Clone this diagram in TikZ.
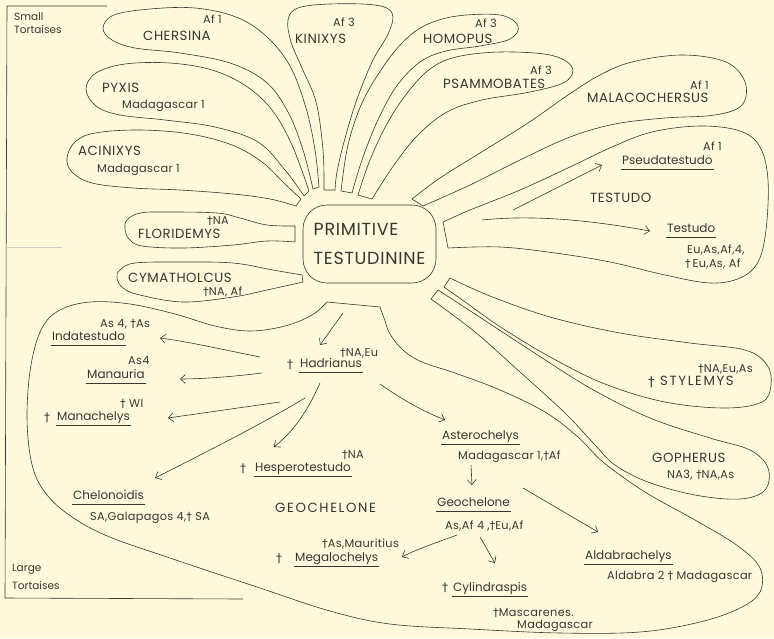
\documentclass[tikz,border=0pt]{standalone}
\usepackage{fontspec}
\setmainfont{Poppins}
\newfontfamily\capsfam[LetterSpace=4]{Poppins}
\newfontfamily\capsfamW[LetterSpace=12]{Poppins}
\newfontfamily\smallfam[LetterSpace=3]{Poppins}
\newfontfamily\dgfam{DejaVu Sans}
\usetikzlibrary{arrows.meta,calc}
\definecolor{paper}{RGB}{254,249,220}
\definecolor{ink}{RGB}{55,55,50}
\newcommand\dg{{\dgfam †}}
\newcommand\smallf{\smallfam\fontsize{11.3}{13}\selectfont}
\newcommand\namef{\fontsize{12}{14}\selectfont}
\newcommand\capf{\capsfam\fontsize{13.3}{15}\selectfont}
\newcommand\capwf{\capsfamW\fontsize{13.3}{15}\selectfont}
\tikzset{
  lobe/.style={draw=ink, line width=0.6pt, line join=round},
  txt/.style={inner sep=0pt, anchor=base west, text=ink, font=\smallf},
  nm/.style={txt, font=\namef},
  cp/.style={txt, font=\capf},
  cpw/.style={txt, font=\capwf},
  arr/.style={draw=ink, line width=0.6pt, -{Straight Barb[length=5pt,width=9pt]}},
  ul/.style={draw=ink, line width=0.6pt},
}
\newcommand\uline[1]{\draw[ul] ($(#1.base west)+(-1,5)$) -- ($(#1.base east)+(1,5)$);}
\begin{document}
\begin{tikzpicture}[x=1pt,y=-1pt]
\fill[paper] (0,0) rectangle (774,638);
\useasboundingbox (0,0) rectangle (774,638);

% side bracket
\draw[ul] (107,6) -- (7,6) -- (5,598) -- (243,599);
\draw[ink!25, line width=0.5pt] (5,247) -- (62,247);
\node[txt,font=\fontsize{10.5}{12}\selectfont] (small1) at (14,20) {Small};
\node[txt,font=\fontsize{10.5}{12}\selectfont] (small2) at (14,33) {Tortaises};
\node[txt,font=\fontsize{10.5}{12}\selectfont] (large1) at (12,571) {Large};
\node[txt,font=\fontsize{10.5}{12}\selectfont] (large2) at (12,589) {Tortaises};

% centre
\node[draw=ink, line width=0.6pt, rounded corners=24pt, minimum width=133pt,
      minimum height=78pt, align=left, inner sep=0pt, text=ink,
      font=\capsfam\fontsize{17.5}{29}\selectfont] (prim) at (369.5,244) {PRIMITIVE\\TESTUDININE};

% lobes of the upper fan
\draw[lobe] plot[smooth, tension=0.6] coordinates {(296,206) (270,199) (233,194) (180,190) (133,188) (92,183) (72,172) (67,158) (75,142) (95,133) (140,130) (190,134) (232,145) (262,162) (285,184) (301,199)} -- cycle;
\draw[lobe] plot[smooth, tension=0.6] coordinates {(304,196) (285,170) (258,142) (215,127) (165,120) (120,115) (96,106) (86,89) (96,73) (125,64) (170,63) (212,70) (246,86) (272,110) (292,145) (309,191)} -- cycle;
\draw[lobe] plot[smooth, tension=0.6] coordinates {(313,189) (303,150) (288,112) (266,82) (230,63) (180,53) (135,48) (112,40) (103,28) (114,15) (150,9) (195,8) (236,17) (266,36) (290,66) (306,108) (315,150) (319,187)} -- cycle;
\draw[lobe] plot[smooth, tension=0.6] coordinates {(324,190) (323,150) (316,102) (301,66) (291,42) (288,20) (298,8) (330,4) (375,5) (392,13) (389,32) (372,62) (356,102) (344,142) (337,172) (335,190)} -- cycle;
\draw[lobe] plot[smooth, tension=0.6] coordinates {(341,191) (348,145) (362,103) (383,67) (404,41) (426,25) (457,16) (500,15) (518,26) (510,39) (480,46) (446,51) (420,62) (396,87) (377,122) (362,160) (352,193)} -- cycle;
\draw[lobe] plot[smooth, tension=0.6] coordinates {(358,195) (370,160) (388,122) (408,92) (430,69) (456,57) (500,52) (550,55) (572,67) (565,82) (530,92) (482,100) (447,112) (418,135) (394,165) (372,199)} -- cycle;
\draw[lobe] plot[smooth, tension=0.6] coordinates {(412,199) (440,178) (480,153) (528,123) (568,95) (600,75) (632,62) (682,55) (726,62) (745,82) (742,105) (715,115) (665,118) (615,124) (570,137) (520,160) (470,185) (423,206)} -- cycle;
% TESTUDO
\draw[lobe] plot[smooth, tension=0.6] coordinates {(443,222) (470,210) (520,190) (570,167) (612,147) (652,132) (700,126) (740,131) (760,147) (768,180) (766,230) (758,262) (740,278) (710,283) (665,275) (610,262) (555,253) (500,247) (448,248)} -- cycle;
% FLORIDEMYS, CYMATHOLCUS
\draw[lobe] plot[smooth, tension=0.6] coordinates {(295,226) (267,225) (240,218) (217,213) (167,212) (140,213) (127,220) (125,229) (129,239) (142,246) (183,248) (233,245) (267,241) (295,242)} -- cycle;
\draw[lobe] plot[smooth, tension=0.6] coordinates {(302,275) (273,270) (233,263) (183,262) (135,263) (120,270) (117,278) (123,288) (140,295) (183,302) (233,297) (267,290) (303,282)} -- cycle;
% STYLEMYS, GOPHERUS
\draw[lobe] plot[smooth, tension=0.6] coordinates {(450,278) (490,296) (550,317) (620,333) (690,343) (745,350) (767,365) (771,385) (762,402) (725,408) (665,402) (605,384) (552,358) (502,328) (468,304) (444,287)} -- cycle;
\draw[lobe] plot[smooth, tension=0.6] coordinates {(438,290) (475,314) (530,350) (590,388) (650,418) (710,438) (750,450) (768,468) (765,490) (740,499) (695,495) (648,482) (615,465) (595,445) (565,413) (520,372) (475,332) (431,299)} -- cycle;
% GEOCHELONE
\draw[lobe] plot[smooth, tension=0.6] coordinates {(380,307) (384,318) (390,334) (403,350) (422,362) (455,373) (500,390) (545,412) (578,437) (603,462) (645,492) (695,520) (738,546) (760,568) (760,592) (740,608) (700,622) (640,632) (560,633) (470,629) (390,624) (330,611) (260,588) (170,558) (105,535) (65,512) (42,488) (31,460) (27,415) (31,365) (42,328) (60,310) (90,302) (130,304) (175,314) (215,326) (250,331) (285,326) (312,315) (327,302)} -- cycle;

% lobe labels
\node[txt] (chA) at (203,23) {Af 1};
\node[cp] (chersina) at (143,40) {CHERSINA};
\node[txt] (kiA) at (333,26) {Af 3};
\node[cp] (kinixys) at (295,43) {KINIXYS};
\node[txt] (hoA) at (475,27) {Af 3};
\node[cp] (homopus) at (423,43) {HOMOPUS};
\node[txt] (psA) at (530,74) {Af 3};
\node[cp] (psammo) at (443,88) {PSAMMOBATES};
\node[txt] (maA) at (690,89) {Af 1};
\node[cp] (malaco) at (587,102) {MALACOCHERSUS};
\node[cp] (pyxis) at (102,92) {PYXIS};
\node[txt] (pyD) at (122,108) {Madagascar 1};
\node[cp] (acinixys) at (78,155) {ACINIXYS};
\node[txt] (acD) at (97,172) {Madagascar 1};
\node[txt] (flD) at (207,224) {\dg NA};
\node[cp] (florid) at (138,238) {FLORIDEMYS};
\node[cp] (cymat) at (128,282) {CYMATHOLCUS};
\node[txt] (cyD) at (203,295) {\dg NA, Af};

% TESTUDO
\node[txt] (psdA) at (703,150) {Af 1};
\node[nm] (pseuda) at (622,164) {Pseudatestudo};
\uline{pseuda}
\node[cp] (testudoG) at (590,202) {TESTUDO};
\node[nm] (testudo) at (667,232) {Testudo};
\uline{testudo}
\node[txt] (teD1) at (687,253) {Eu,As,Af,4,};
\node[txt] (teD2) at (685,267) {\dg\,Eu,As, Af};
\coordinate (pa1) at (513,210); \coordinate (pa2) at (602,165);
\draw[arr] (pa1) -- (pa2);
\coordinate (ta1) at (482,220); \coordinate (ta2) at (650,231);
\draw[arr] (ta1) .. controls (540,214) and (600,222) .. (ta2);

% STYLEMYS, GOPHERUS
\node[txt] (stD) at (698,372) {\dg NA,Eu,As};
\node[txt,font=\capf] (stdg) at (648,386) {\dg};
\node[cpw] (stylemys) at (660,385) {STYLEMYS};
\node[cp] (gopherus) at (652,462) {GOPHERUS};
\node[txt] (goD) at (667,478) {NA3, \dg NA,As};

% GEOCHELONE content
\node[txt] (inD) at (100,327) {As 4, \dg As};
\node[nm] (indat) at (52,340) {Indatestudo};
\uline{indat}
\node[txt] (maD) at (128,364) {As4};
\node[nm] (manau) at (87,378) {Manauria};
\uline{manau}
\node[txt] (mchD) at (120,407) {\dg\ WI};
\node[nm] (mchdg) at (44,421) {\dg};
\node[nm] (manach) at (57,420) {Manachelys};
\uline{manach}
\node[txt] (haD) at (340,356) {\dg NA,Eu};
\node[nm] (hadg) at (287,368) {\dg};
\node[nm] (hadr) at (300,367) {Hadrianus};
\uline{hadr}
\node[txt] (heD) at (342,458) {\dg NA};
\node[nm] (hedg) at (240,472) {\dg};
\node[nm] (hesp) at (255,471) {Hesperotestudo};
\uline{hesp}
\node[nm] (chelo) at (73,499) {Chelonoidis};
\uline{chelo}
\node[txt] (cheD) at (90,520) {SA,Galapagos 4,\dg\ SA};
\node[cpw] (geoG) at (275,512) {GEOCHELONE};
\node[txt] (meD) at (322,547) {\dg As,Mauritius};
\node[nm] (medg) at (276,562) {\dg};
\node[nm] (megal) at (295,561) {Megalochelys};
\uline{megal}
\node[nm] (aster) at (442,439) {Asterochelys};
\uline{aster}
\node[txt] (asD) at (458,459) {Madagascar 1,\dg Af};
\node[nm] (geoch) at (437,506) {Geochelone};
\uline{geoch}
\node[txt] (geD) at (445,529) {As,Af 4 ,\dg Eu,Af};
\node[nm] (aldab) at (585,559) {Aldabrachelys};
\uline{aldab}
\node[txt] (alD) at (607,579) {Aldabra 2 \dg\ Madagascar};
\node[nm] (cydg) at (442,591) {\dg};
\node[nm] (cylin) at (453,591) {Cylindraspis};
\uline{cylin}
\node[txt] (cyD1) at (493,616) {\dg Mascarenes.};
\node[txt] (cyD2) at (517,628) {Madagascar};

% arrows in GEOCHELONE
\coordinate (c0) at (343,313); \coordinate (c1) at (320,345);
\draw[arr] (c0) -- (c1);
\coordinate (h1) at (260,357); \coordinate (i1) at (160,338);
\draw[arr] (h1) .. controls (220,349) and (190,342) .. (i1);
\coordinate (h2) at (262,373); \coordinate (m2) at (180,379);
\draw[arr] (h2) .. controls (230,377) and (200,379) .. (m2);
\coordinate (h3) at (280,402); \coordinate (m3) at (168,418);
\draw[arr] (h3) -- (m3);
\coordinate (h4) at (305,398); \coordinate (c4) at (155,478);
\draw[arr] (h4) .. controls (260,425) and (210,450) .. (c4);
\coordinate (h5) at (320,383); \coordinate (e5) at (274,447);
\draw[arr] (h5) .. controls (308,410) and (295,430) .. (e5);
\coordinate (h6) at (380,384); \coordinate (a6) at (445,420);
\draw[arr] (h6) .. controls (400,398) and (420,410) .. (a6);
\coordinate (a7) at (471,465); \coordinate (g7) at (472,485);
\draw[arr] (a7) -- (g7);
\coordinate (g8) at (457,535); \coordinate (m8) at (402,557);
\draw[arr] (g8) .. controls (435,543) and (415,550) .. (m8);
\coordinate (g9) at (480,537); \coordinate (y9) at (495,563);
\draw[arr] (g9) .. controls (486,547) and (490,555) .. (y9);
\coordinate (g10) at (523,488); \coordinate (l10) at (598,532);
\draw[arr] (g10) -- (l10);
\end{tikzpicture}
\end{document}
